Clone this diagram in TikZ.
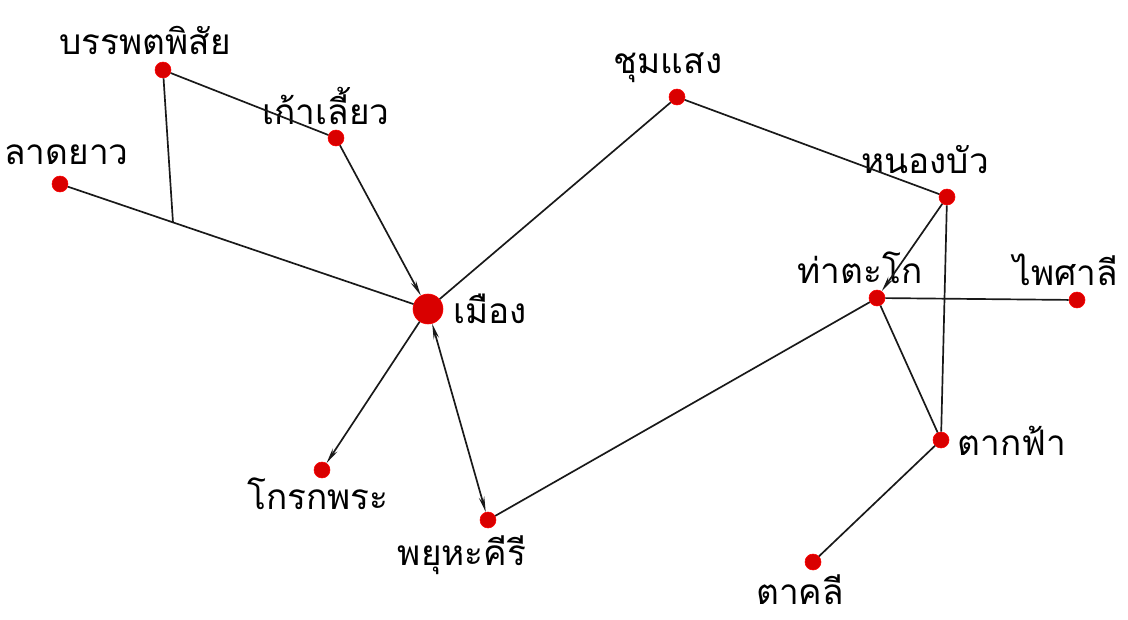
\documentclass[tikz,border=0pt]{standalone}
\usepackage{fontspec}
\newfontfamily\thaifont[Script=Thai]{Loma}
\usepackage{tikz}
\usetikzlibrary{arrows.meta, calc}

\begin{document}
\begin{tikzpicture}[
  x=0.025cm, y=-0.025cm,
  font=\thaifont\fontsize{25}{28}\selectfont,
  town/.style={circle, fill=red!85!black, draw=red, inner sep=0pt, minimum size=0.4cm},
  bigtown/.style={town, minimum size=0.75cm},
  placename/.style={inner sep=0pt},
  link/.style={draw=black!90, line width=1.2pt},
  arc/.style={link, -{Stealth[length=11pt, width=4pt]}}
]
\useasboundingbox (0,0) rectangle (1128,619);

% districts
\node[bigtown] (mueang)   at (428,309) {};
\node[town]    (banphot)  at (163,70)  {};
\node[town]    (kaoliao)  at (336,138) {};
\node[town]    (ladyao)   at (60,184)  {};
\node[town]    (chumsaeng) at (677,97) {};
\node[town]    (nongbua)  at (947,197) {};
\node[town]    (thatako)  at (877,298) {};
\node[town]    (phaisali) at (1077,300) {};
\node[town]    (takfa)    at (941,440) {};
\node[town]    (takhli)   at (813,562) {};
\node[town]    (phayuha)  at (488,520) {};
\node[town]    (krokphra) at (322,470) {};

% names
\node[placename] (mueangtxt)   at (490,309) {เมือง};
\node[placename] (banphottxt)  at (145,40)  {บรรพตพิสัย};
\node[placename] (kaoliaotxt)  at (326,106) {เก้าเลี้ยว};
\node[placename, anchor=west] (ladyaotxt) at (4,155) {ลาดยาว};
\node[placename] (chumsaengtxt) at (668,68) {ชุมแสง};
\node[placename] (nongbuatxt)  at (925,160) {หนองบัว};
\node[placename] (thatakotxt)  at (860,268) {ท่าตะโก};
\node[placename] (phaisalitxt) at (1066,270) {ไพศาลี};
\node[placename] (takfatxt)    at (1012,441) {ตากฟ้า};
\node[placename] (takhlitxt)   at (800,590) {ตาคลี};
\node[placename] (phayuhatxt)  at (462,555) {พยุหะคีรี};
\node[placename] (krokphratxt) at (318,494) {โกรกพระ};

% roads
\coordinate (fork) at ($(ladyao)!0.307!(mueang)$);
\draw[link] (ladyao) -- (mueang);
\draw[link] (banphot) -- (fork);
\draw[link] (banphot) -- (kaoliao);
\draw[arc]  (kaoliao) -- (mueang);
\draw[link] (chumsaeng) -- (mueang);
\draw[link] (chumsaeng) -- (nongbua);
\draw[arc]  (nongbua) -- (thatako);
\draw[link] (nongbua) -- (takfa);
\draw[link] (thatako) -- (phaisali);
\draw[link] (thatako) -- (takfa);
\draw[link] (thatako) -- (phayuha);
\draw[arc, {Stealth[length=11pt, width=4pt]}-{Stealth[length=11pt, width=4pt]}] (mueang) -- (phayuha);
\draw[arc]  (mueang) -- (krokphra);
\draw[link] (takfa) -- (takhli);
\end{tikzpicture}
\end{document}
